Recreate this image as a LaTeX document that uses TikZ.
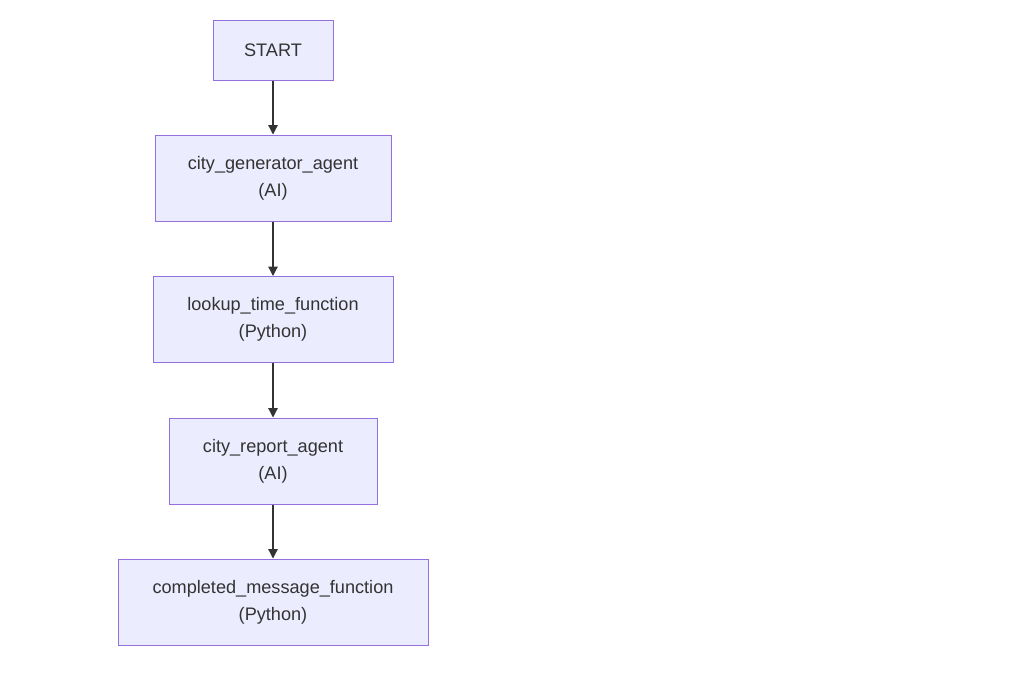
\documentclass[tikz,border=0pt]{standalone}
\usepackage{fontspec}
\setmainfont{Liberation Sans}
\usetikzlibrary{arrows.meta}
\definecolor{nodefill}{HTML}{ECECFF}
\definecolor{nodeborder}{HTML}{9370DB}
\definecolor{edgecol}{HTML}{333333}
\definecolor{textcol}{HTML}{333333}
\begin{document}
\begin{tikzpicture}[x=0.75pt,y=-0.75pt,
  box/.style={draw=nodeborder,fill=nodefill,line width=0.75pt,rectangle,inner sep=0pt,
    align=center,text=textcol,font=\fontsize{13.6}{20.2}\selectfont},
  edge/.style={draw=edgecol,line width=0.9pt,-{Triangle[length=7pt,width=7pt]}}]
\useasboundingbox (0,0) rectangle (1024,679);
\node[box,minimum width=120*0.75pt,minimum height=60*0.75pt] (start) at (273,50) {START};
\node[box,minimum width=236*0.75pt,minimum height=86*0.75pt] (gen) at (273,178) {city\_generator\_agent\\(AI)};
\node[box,minimum width=240*0.75pt,minimum height=86*0.75pt] (look) at (273,319.5) {lookup\_time\_function\\(Python)};
\node[box,minimum width=208*0.75pt,minimum height=86*0.75pt] (rep) at (273,461) {city\_report\_agent\\(AI)};
\node[box,minimum width=310*0.75pt,minimum height=86*0.75pt] (comp) at (273,602) {completed\_message\_function\\(Python)};
\draw[edge] (start) -- (gen);
\draw[edge] (gen) -- (look);
\draw[edge] (look) -- (rep);
\draw[edge] (rep) -- (comp);
\end{tikzpicture}
\end{document}
